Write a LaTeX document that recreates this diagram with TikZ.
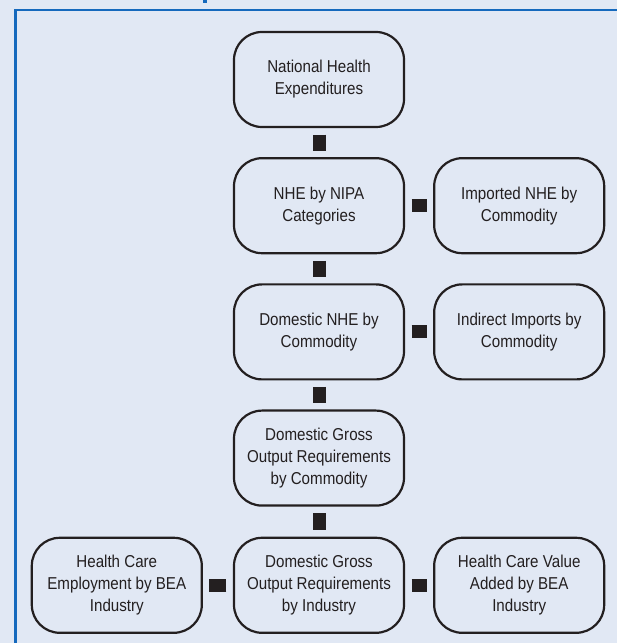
\documentclass[tikz,border=0pt]{standalone}
\usepackage{fontspec}
\setmainfont{Liberation Sans}[FakeStretch=0.88]
\usepackage{tikz}
\usetikzlibrary{positioning}
\definecolor{panelbg}{HTML}{E1E8F4}
\definecolor{panelblue}{HTML}{1569BD}
\definecolor{inkgray}{HTML}{231F20}

\begin{document}
\begin{tikzpicture}[
        x=1pt, y=1pt,
        node distance=29pt and 28pt,
        box/.style={rectangle, draw=inkgray, line width=2.2pt, rounded corners=28pt, fill=panelbg, text=inkgray, minimum width=170pt, minimum height=95pt, align=center, font=\fontsize{17.2pt}{22pt}\selectfont},
        link/.style={draw=inkgray, line width=13pt, shorten >=6.5pt, shorten <=6.5pt}
    ]

    % Background and frame
    \fill[panelbg] (0,0) rectangle (617,643);
    \useasboundingbox (0,0) rectangle (617,643);
    \draw[panelblue, line width=2.4pt] (617,633) -- (15.6,633) -- (15.6,0);
    \fill[panelblue] (203,639.5) rectangle (207,643);

    % Middle column
    \node[box] (nhe) at (319,563.5) {National Health\\Expenditures};
    \node[box, below=of nhe] (nipa) {NHE by NIPA\\Categories};
    \node[box, below=of nipa] (domnhe) {Domestic NHE by\\Commodity};
    \node[box, below=of domnhe] (dgocom) {Domestic Gross\\Output Requirements\\by Commodity};
    \node[box, below=30pt of dgocom] (dgoind) {Domestic Gross\\Output Requirements\\by Industry};

    % Right column
    \node[box, right=of nipa] (imported) {Imported NHE by\\Commodity};
    \node[box, right=of domnhe] (indirect) {Indirect Imports by\\Commodity};
    \node[box, right=of dgoind] (valueadd) {Health Care Value\\Added by BEA\\Industry};

    % Left column
    \node[box, left=30pt of dgoind] (employ) {Health Care\\Employment by BEA\\Industry};

    % Connectors
    \draw[link] (nhe) -- (nipa);
    \draw[link] (nipa) -- (domnhe);
    \draw[link] (domnhe) -- (dgocom);
    \draw[link] (dgocom) -- (dgoind);
    \draw[link] (nipa) -- (imported);
    \draw[link] (domnhe) -- (indirect);
    \draw[link] (dgoind) -- (valueadd);
    \draw[link] (dgoind) -- (employ);

\end{tikzpicture}
\end{document}
